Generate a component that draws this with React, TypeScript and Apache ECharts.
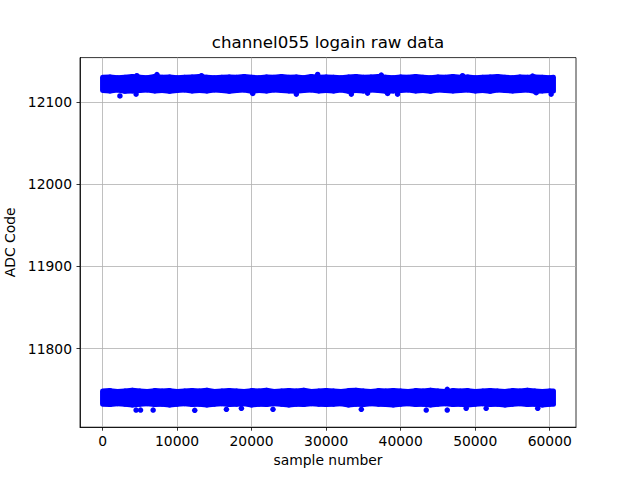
import React, { useEffect, useRef } from "react";
import * as echarts from "echarts";

// sample positions where the band envelope was read (every 1000 samples, last at 60500)
const sampleX: number[] = [
  0, 1000, 2000, 3000, 4000, 5000, 6000, 7000, 8000, 9000,
  10000, 11000, 12000, 13000, 14000, 15000, 16000, 17000, 18000, 19000,
  20000, 21000, 22000, 23000, 24000, 25000, 26000, 27000, 28000, 29000,
  30000, 31000, 32000, 33000, 34000, 35000, 36000, 37000, 38000, 39000,
  40000, 41000, 42000, 43000, 44000, 45000, 46000, 47000, 48000, 49000,
  50000, 51000, 52000, 53000, 54000, 55000, 56000, 57000, 58000, 59000,
  60000, 60500,
];

// upper band (~12122) dense envelope
const topHigh: number[] = [
  12130.0, 12130.5, 12129.5, 12130.0, 12131.0, 12130.0, 12129.5, 12131.0, 12130.0, 12130.5,
  12129.5, 12130.0, 12130.5, 12131.0, 12130.0, 12129.5, 12130.0, 12130.5, 12130.0, 12131.0,
  12130.0, 12129.5, 12130.5, 12130.0, 12131.0, 12130.0, 12130.5, 12129.5, 12131.0, 12130.0,
  12130.5, 12130.0, 12129.5, 12130.5, 12131.0, 12130.0, 12130.5, 12131.0, 12130.0, 12129.5,
  12130.5, 12130.0, 12131.0, 12130.0, 12129.5, 12130.5, 12130.0, 12131.0, 12130.0, 12130.5,
  12129.5, 12130.0, 12130.5, 12131.0, 12130.0, 12129.5, 12130.5, 12130.0, 12130.5, 12130.0,
  12129.5, 12130.0,
];
const topLow: number[] = [
  12114.0, 12113.5, 12114.5, 12113.0, 12113.5, 12114.0, 12114.5, 12113.5, 12114.0, 12113.0,
  12114.0, 12114.5, 12113.5, 12114.0, 12113.5, 12114.5, 12114.0, 12113.0, 12114.0, 12114.5,
  12113.0, 12114.0, 12113.5, 12114.5, 12114.0, 12113.5, 12113.0, 12114.0, 12114.5, 12113.5,
  12114.0, 12113.5, 12114.5, 12113.0, 12114.0, 12113.5, 12114.5, 12114.0, 12113.0, 12113.5,
  12114.0, 12114.5, 12113.5, 12114.0, 12113.0, 12114.5, 12114.0, 12113.5, 12114.0, 12114.5,
  12113.5, 12114.0, 12113.0, 12114.5, 12114.0, 12113.5, 12114.0, 12114.5, 12113.0, 12113.5,
  12114.0, 12113.5,
];

// lower band (~11740) dense envelope
const bottomHigh: number[] = [
  11748.5, 11749.0, 11748.0, 11748.5, 11749.5, 11748.5, 11748.0, 11749.0, 11748.5, 11749.0,
  11748.0, 11748.5, 11749.0, 11748.5, 11749.5, 11748.0, 11748.5, 11749.0, 11748.5, 11748.0,
  11749.0, 11748.5, 11749.5, 11748.0, 11748.5, 11749.0, 11748.5, 11749.5, 11748.0, 11748.5,
  11749.0, 11748.5, 11748.0, 11749.0, 11749.5, 11748.5, 11748.0, 11749.0, 11748.5, 11749.0,
  11748.5, 11748.0, 11749.0, 11748.5, 11749.5, 11748.5, 11748.0, 11749.0, 11748.5, 11749.0,
  11748.0, 11748.5, 11749.0, 11748.5, 11748.0, 11749.0, 11748.5, 11749.5, 11748.5, 11748.0,
  11748.5, 11748.5,
];
const bottomLow: number[] = [
  11732.5, 11732.0, 11733.0, 11732.5, 11731.5, 11732.5, 11733.0, 11732.0, 11732.5, 11731.5,
  11732.5, 11733.0, 11732.0, 11732.5, 11731.5, 11732.5, 11733.0, 11732.0, 11732.5, 11733.0,
  11731.5, 11732.5, 11732.0, 11733.0, 11732.5, 11731.5, 11732.5, 11732.0, 11733.0, 11732.5,
  11732.0, 11732.5, 11733.0, 11731.5, 11732.5, 11732.0, 11733.0, 11732.5, 11732.0, 11731.5,
  11732.5, 11733.0, 11732.0, 11732.5, 11731.5, 11732.5, 11733.0, 11732.0, 11732.5, 11731.5,
  11732.5, 11733.0, 11732.0, 11732.5, 11731.5, 11732.5, 11733.0, 11732.0, 11732.5, 11731.5,
  11732.5, 11732.5,
];

// isolated points sticking out of the bands
const topOutX: number[] = [2330, 4500, 4600, 7300, 13270, 20150, 26000, 28860, 33380, 35560, 37400, 38250, 39580, 48300, 57700, 58180, 60190];
const topOutY: number[] = [12107.4, 12109.6, 12132.0, 12133.4, 12132.0, 12110.4, 12109.6, 12133.5, 12109.6, 12110.8, 12132.7, 12110.4, 12109.6, 12132.0, 12131.5, 12111.3, 12109.6];
const botOutX: number[] = [4500, 5100, 6790, 12370, 16620, 18630, 22870, 34720, 43430, 46250, 46250, 48790, 51470, 58390];
const botOutY: number[] = [11725.4, 11725.4, 11725.4, 11725.0, 11726.3, 11727.5, 11726.3, 11726.3, 11725.4, 11725.4, 11750.5, 11727.5, 11727.5, 11727.5];

const xTicks: number[] = [0, 10000, 20000, 30000, 40000, 50000, 60000];
const yTicks: number[] = [11800, 11900, 12000, 12100];

const TITLE = "channel055 logain raw data";
const X_NAME = "sample number";
const Y_NAME = "ADC Code";

const BLUE = "#0000ff";
const FONT = "DejaVu Sans";

function bandSegments(low: number[], high: number[]) {
  const out: number[][] = [];
  for (let i = 0; i < sampleX.length - 1; i++) {
    out.push([sampleX[i], low[i], high[i], sampleX[i + 1], low[i + 1], high[i + 1]]);
  }
  return out;
}

function renderBand(params: any, api: any) {
  const a = api.coord([api.value(0), api.value(2)]);
  const b = api.coord([api.value(3), api.value(5)]);
  const c = api.coord([api.value(3), api.value(4)]);
  const d = api.coord([api.value(0), api.value(1)]);
  return {
    type: "polygon",
    shape: { points: [a, b, c, d] },
    style: { fill: BLUE, stroke: BLUE, lineWidth: 5, lineJoin: "round" },
  };
}

export default function App() {
  const ref = useRef<HTMLDivElement>(null);
  useEffect(() => {
    if (!ref.current) return;
    const chart = echarts.init(ref.current, undefined, { renderer: "svg" });
    const axisLine = { lineStyle: { color: "#000", width: 0.8 } };
    const tickStyle = { color: "#000", width: 0.8 };
    chart.setOption({
      animation: false,
      backgroundColor: "#fff",
      grid: {
        left: 80,
        right: 64,
        top: 57.6,
        bottom: 52.8,
        show: true,
        borderColor: "#000",
        borderWidth: 0.8,
        backgroundColor: "transparent",
        containLabel: false,
        outerBoundsMode: "none",
      },
      graphic: [
        {
          type: "text",
          x: 328,
          y: 42,
          style: {
            text: TITLE,
            fontSize: 16.67,
            fontFamily: FONT,
            fill: "#000",
            align: "center",
            verticalAlign: "middle",
          },
        },
      ],
      xAxis: {
        type: "value",
        min: -3025,
        max: 63525,
        axisLine: { onZero: false, ...axisLine },
        axisTick: { show: true, length: 3.5, lineStyle: tickStyle, customValues: xTicks },
        axisLabel: {
          customValues: xTicks,
          formatter: (v: number) => String(v),
          color: "#000",
          fontSize: 13.89,
          fontFamily: FONT,
          margin: 7,
        },
        splitLine: { show: true, lineStyle: { color: "#b0b0b0", width: 0.8 } },
        name: X_NAME,
        nameLocation: "middle",
        nameGap: 26,
        nameTextStyle: { color: "#000", fontSize: 13.89, fontFamily: FONT },
      },
      yAxis: {
        type: "value",
        min: 11704.5,
        max: 12154,
        axisLine: { onZero: false, show: true, ...axisLine },
        axisTick: { show: true, length: 3.5, lineStyle: tickStyle, customValues: yTicks },
        axisLabel: {
          customValues: yTicks,
          formatter: (v: number) => String(v),
          color: "#000",
          fontSize: 13.89,
          fontFamily: FONT,
          margin: 8,
        },
        splitLine: { show: true, lineStyle: { color: "#b0b0b0", width: 0.8 } },
        name: Y_NAME,
        nameLocation: "middle",
        nameRotate: 90,
        nameGap: 61,
        nameTextStyle: { color: "#000", fontSize: 13.89, fontFamily: FONT },
      },
      series: [
        {
          type: "custom",
          renderItem: renderBand,
          data: bandSegments(topLow, topHigh),
          encode: { x: [0, 3], y: [1, 2, 4, 5] },
          silent: true,
        },
        {
          type: "custom",
          renderItem: renderBand,
          data: bandSegments(bottomLow, bottomHigh),
          encode: { x: [0, 3], y: [1, 2, 4, 5] },
          silent: true,
        },
        {
          type: "scatter",
          symbolSize: 5.5,
          itemStyle: { color: BLUE, opacity: 1 },
          data: topOutX.map((x, i) => [x, topOutY[i]]),
          silent: true,
        },
        {
          type: "scatter",
          symbolSize: 5.5,
          itemStyle: { color: BLUE, opacity: 1 },
          data: botOutX.map((x, i) => [x, botOutY[i]]),
          silent: true,
        },
      ],
    });
    return () => chart.dispose();
  }, []);
  return (
    <div
      ref={ref}
      style={{ position: "absolute", left: 0, top: 0, width: 640, height: 480 }}
    />
  );
}
